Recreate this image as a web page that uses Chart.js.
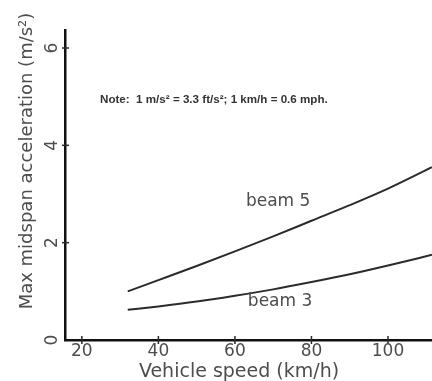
<!DOCTYPE html>
<html>
<head>
<meta charset="utf-8">
<script src="https://cdn.jsdelivr.net/npm/chart.js@4"></script>
<style>
  html, body { margin: 0; padding: 0; background: #fff; }
  canvas { display: block; }
</style>
</head>
<body>
<canvas id="lineChart" width="432" height="381"></canvas>
<script>
// vehicle speed (km/h) and max midspan acceleration (m/s^2)
var speeds = [32, 40, 50, 60, 70, 80, 90, 100, 111.5];
var beam5 = [1.0, 1.23, 1.52, 1.82, 2.13, 2.45, 2.77, 3.11, 3.55];
var beam3 = [0.62, 0.69, 0.79, 0.91, 1.04, 1.19, 1.35, 1.53, 1.75];
var xTicks = [20, 40, 60, 80, 100];
var yTicks = [0, 2, 4, 6];
var seriesNames = ['beam 5', 'beam 3'];
var xTitle = 'Vehicle speed (km/h)';
var yTitle = 'Max midspan acceleration (m/s\u00B2)';
var noteText = 'Note:  1 m/s\u00B2 = 3.3 ft/s\u00B2; 1 km/h = 0.6 mph.';

function pts(ys) {
    return speeds.map(function (s, i) { return { x: s, y: ys[i] }; });
}

var ink = '#2b2b2b';
var textInk = '#4d4d4d';
var face = '"DejaVu Sans", sans-serif';

var decorations = {
    id: 'decorations',
    afterDraw: function (chart) {
        var c = chart.ctx;
        var xs = chart.scales.x, ys = chart.scales.y;
        var area = chart.chartArea;
        c.save();
        c.strokeStyle = ink;
        c.lineWidth = 1.5;
        // tick marks crossing the axes
        xTicks.forEach(function (v) {
            var px = xs.getPixelForValue(v);
            c.beginPath(); c.moveTo(px, area.bottom - 4); c.lineTo(px, area.bottom + 4); c.stroke();
        });
        yTicks.slice(1).forEach(function (v) {
            var py = ys.getPixelForValue(v);
            c.beginPath(); c.moveTo(area.left - 3, py); c.lineTo(area.left + 4, py); c.stroke();
        });

        c.fillStyle = textInk;
        c.textAlign = 'center';
        c.textBaseline = 'middle';
        c.font = '17px ' + face;
        xTicks.forEach(function (v) {
            c.fillText(String(v), xs.getPixelForValue(v), area.bottom + 12);
        });
        // y tick labels are turned like the axis title
        yTicks.forEach(function (v) {
            c.save();
            c.translate(area.left - 12, ys.getPixelForValue(v));
            c.rotate(-Math.PI / 2);
            c.fillText(String(v), 0, 0);
            c.restore();
        });

        c.font = '19px ' + face;
        c.fillText(xTitle, 239, 372);

        c.save();
        c.translate(27, 161);
        c.rotate(-Math.PI / 2);
        c.font = '18px ' + face;
        c.fillText(yTitle, 0, 0);
        c.restore();

        // curve labels
        c.font = '17px ' + face;
        c.fillText(seriesNames[0], xs.getPixelForValue(71.3), ys.getPixelForValue(2.85));
        c.fillText(seriesNames[1], xs.getPixelForValue(71.8), ys.getPixelForValue(0.78));

        // note, fitted to its width in the picture
        c.font = 'bold 10px "Liberation Sans", Arial, sans-serif';
        var w = c.measureText(noteText).width;
        var size = 10 * 228 / w;
        c.font = 'bold ' + size.toFixed(2) + 'px "Liberation Sans", Arial, sans-serif';
        c.fillStyle = '#333';
        c.fillText(noteText, xs.getPixelForValue(54.5), ys.getPixelForValue(4.93));
        c.restore();
    }
};

var ctx = document.getElementById('lineChart').getContext('2d');
var myChart = new Chart(ctx, {
    type: 'line',
    data: {
        datasets: [{
            label: seriesNames[0],
            data: pts(beam5),
            borderColor: ink,
            borderWidth: 2,
            pointRadius: 0,
            cubicInterpolationMode: 'monotone'
        }, {
            label: seriesNames[1],
            data: pts(beam3),
            borderColor: ink,
            borderWidth: 2,
            pointRadius: 0,
            cubicInterpolationMode: 'monotone'
        }]
    },
    options: {
        responsive: false,
        devicePixelRatio: 1,
        animation: false,
        layout: { padding: { left: 65, top: 30, right: 0, bottom: 41 } },
        plugins: { legend: { display: false }, tooltip: { enabled: false } },
        scales: {
            x: {
                type: 'linear',
                min: 15.6,
                max: 111.5,
                afterBuildTicks: function (s) { s.ticks = xTicks.map(function (v) { return { value: v }; }); },
                ticks: { display: false },
                grid: { display: false, drawTicks: false },
                border: { display: true, color: '#111', width: 2.5 }
            },
            y: {
                min: 0,
                max: 6.37,
                afterBuildTicks: function (s) { s.ticks = yTicks.map(function (v) { return { value: v }; }); },
                ticks: { display: false },
                grid: { display: false, drawTicks: false },
                border: { display: true, color: '#111', width: 2.5 }
            }
        }
    },
    plugins: [decorations]
});
</script>
</body>
</html>
